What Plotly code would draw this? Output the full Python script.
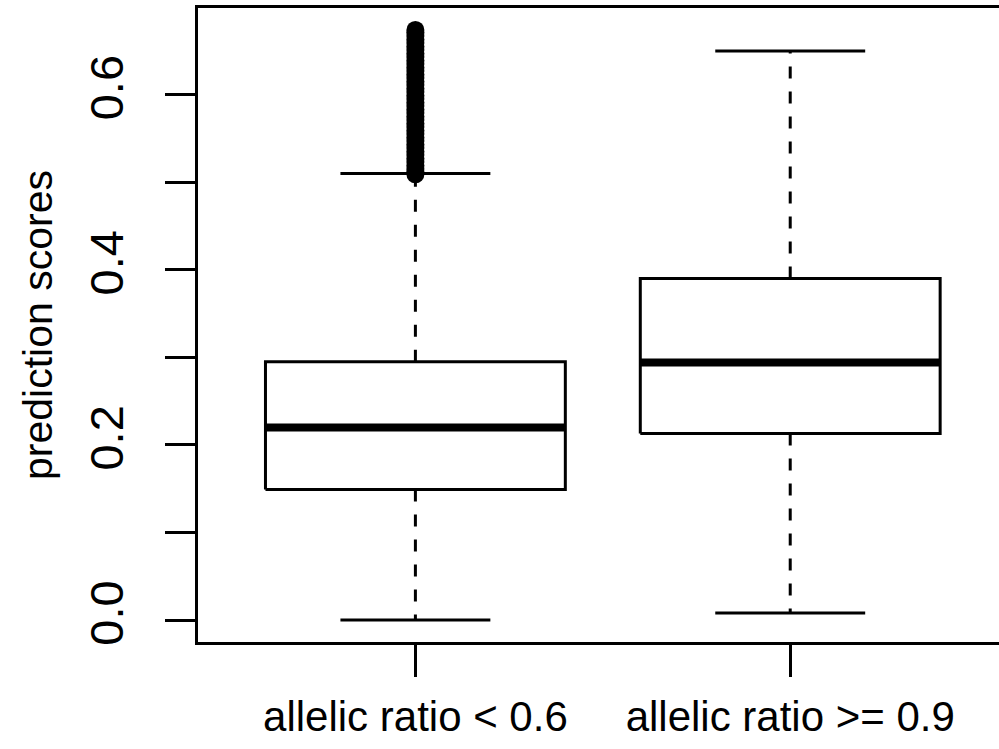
import plotly.graph_objects as go

categories = ["allelic ratio < 0.6", "allelic ratio >= 0.9"]
positions = [1, 2]
lower_whisker = [0.000, 0.008]
q1 = [0.149, 0.213]
median = [0.220, 0.294]
q3 = [0.295, 0.390]
upper_whisker = [0.510, 0.650]
outliers_group1 = [0.509, 0.512, 0.515, 0.519, 0.523, 0.527, 0.531, 0.535, 0.539,
                   0.543, 0.547, 0.551, 0.555, 0.559, 0.563, 0.567, 0.571, 0.575,
                   0.579, 0.583, 0.587, 0.591, 0.595, 0.599, 0.603, 0.607, 0.611,
                   0.615, 0.619, 0.623, 0.627, 0.631, 0.635, 0.639, 0.643, 0.647,
                   0.651, 0.655, 0.659, 0.663, 0.667, 0.671, 0.674]
y_tick_vals = [0.0, 0.1, 0.2, 0.3, 0.4, 0.5, 0.6]
y_tick_text = ["0.0", "", "0.2", "", "0.4", "", "0.6"]

FONT = "Liberation Sans, Arial, Helvetica, sans-serif"
BOX_HALF = 0.4
CAP_HALF = 0.2

fig = go.Figure()
for i, p in enumerate(positions):
    # box
    fig.add_trace(go.Scatter(
        x=[p - BOX_HALF, p + BOX_HALF, p + BOX_HALF, p - BOX_HALF, p - BOX_HALF],
        y=[q1[i], q1[i], q3[i], q3[i], q1[i]],
        mode="lines", line=dict(color="black", width=3), hoverinfo="skip"))
    # median
    fig.add_trace(go.Scatter(
        x=[p - BOX_HALF, p + BOX_HALF], y=[median[i], median[i]],
        mode="lines", line=dict(color="black", width=8), hoverinfo="skip"))
    # whiskers (dashed)
    fig.add_trace(go.Scatter(
        x=[p, p, None, p, p],
        y=[q3[i], upper_whisker[i], None, q1[i], lower_whisker[i]],
        mode="lines", line=dict(color="black", width=3, dash="12px,13px"),
        hoverinfo="skip"))
    # caps
    fig.add_trace(go.Scatter(
        x=[p - CAP_HALF, p + CAP_HALF, None, p - CAP_HALF, p + CAP_HALF],
        y=[upper_whisker[i], upper_whisker[i], None, lower_whisker[i], lower_whisker[i]],
        mode="lines", line=dict(color="black", width=3), hoverinfo="skip"))

fig.add_trace(go.Scatter(
    x=[positions[0]] * len(outliers_group1), y=outliers_group1,
    mode="markers",
    marker=dict(symbol="circle", size=18, color="black", line=dict(width=0)),
    hoverinfo="skip", cliponaxis=False))

fig.update_layout(
    width=999, height=749, autosize=False,
    margin=dict(l=198, r=0, t=8, b=107),
    paper_bgcolor="white", plot_bgcolor="white",
    showlegend=False,
    font=dict(family=FONT, color="black"),
)
fig.update_xaxes(
    range=[0.42, 2.557], tickvals=positions, ticktext=categories,
    ticks="outside", ticklen=32, tickwidth=3, tickcolor="black",
    showline=True, linewidth=3, linecolor="black", mirror=True,
    showgrid=False, zeroline=False, tickfont=dict(size=42, family=FONT),
    ticklabelstandoff=4, automargin=False,
)
fig.update_yaxes(
    range=[-0.0251, 0.699], tickvals=y_tick_vals, ticktext=y_tick_text,
    tickangle=-90,
    ticks="outside", ticklen=30, tickwidth=3, tickcolor="black",
    showline=True, linewidth=3, linecolor="black", mirror=False,
    showgrid=False, zeroline=False, tickfont=dict(size=47, family=FONT),
    ticklabelstandoff=23, automargin=False,
    title=dict(text="prediction scores", font=dict(size=41, family=FONT), standoff=15),
)

fig.write_html("out.html", config={"displayModeBar": False},
               post_script="document.body.style.margin='0';")
